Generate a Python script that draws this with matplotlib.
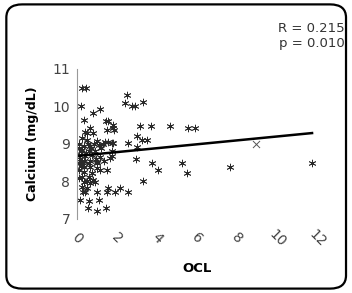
import matplotlib
matplotlib.use("Agg")
import matplotlib.pyplot as plt
from matplotlib.patches import FancyBboxPatch
import numpy as np

plt.rcParams['font.family'] = ['DejaVu Sans']

# OCL values (x) and Calcium values (y)
ocl = [0.25, 0.45, 0.2, 0.8, 1.15, 2.5, 2.4, 2.75, 2.9, 3.3,
       0.35, 1.45, 1.55, 1.8, 1.8, 3.15, 3.7, 4.65, 5.55, 5.9,
       0.5, 0.65, 3.0, 3.25, 3.5, 2.55, 3.0, 1.55, 1.8,
       2.95, 3.75, 4.05, 5.25, 5.5, 7.65, 11.75, 3.3,
       1.55, 2.15, 2.55, 1.0, 0.3, 0.15, 0.6, 1.1, 0.55, 1.0, 1.45,
       1.15, 1.5, 1.65, 1.75, 1.0, 0.75,
       0.4, 0.8, 0.25, 0.5, 1.0, 1.4, 1.75, 0.35, 0.65, 1.1,
       0.25, 0.6, 0.9, 0.4, 0.75, 1.15, 1.75, 0.35, 0.65,
       0.25, 0.6, 1.0, 1.35, 0.35, 0.65, 1.0, 0.35, 0.75,
       0.25, 0.6, 0.35, 0.65, 0.9, 0.25, 0.5, 0.4, 1.5, 1.9,
       1.5, 1.85, 0.1, 0.1, 0.1, 0.1, 0.1, 0.1, 0.15, 0.2, 0.2,
       0.55, 0.7, 0.85, 0.45, 0.3, 1.2, 1.3, 0.5, 0.8, 0.95]
calcium = [10.5, 10.5, 10.0, 9.83, 9.93, 10.3, 10.1, 10.0, 10.0, 10.12,
           9.64, 9.62, 9.6, 9.5, 9.43, 9.48, 9.48, 9.48, 9.43, 9.43,
           9.3, 9.43, 9.2, 9.1, 9.1, 9.03, 8.93, 9.05, 9.03,
           8.6, 8.5, 8.3, 8.5, 8.22, 8.39, 8.5, 8.0,
           7.82, 7.82, 7.72, 7.72, 7.72, 7.5, 7.48, 7.5, 7.3, 7.2, 7.3,
           8.3, 8.3, 8.63, 8.8, 8.5, 8.22,
           9.32, 9.3, 9.16, 9.1, 9.08, 9.05, 9.03, 8.95, 8.95, 8.97,
           8.84, 8.81, 8.81, 8.68, 8.7, 8.65, 8.68, 8.55, 8.55,
           8.52, 8.5, 8.52, 8.55, 8.39, 8.39, 8.36, 8.25, 8.23,
           8.12, 8.12, 7.99, 7.96, 7.99, 7.85, 7.82, 7.72, 7.72, 7.72,
           9.37, 9.37, 8.9, 8.7, 8.5, 8.3, 8.1, 9.0, 8.6, 8.8, 8.4,
           9.0, 8.9, 9.0, 8.75, 8.45, 8.9, 9.0, 8.0, 8.05, 8.6]
# one point drawn as a plain x in the picture
ocl_x = [8.95]
calcium_x = [9.0]

# regression line
intercept = 8.68
slope = 0.052
stats_text = "R = 0.215\np = 0.010"

xticks = [0, 2, 4, 6, 8, 10, 12]
yticks = [7, 8, 9, 10, 11]

fig = plt.figure(figsize=(3.52, 2.93), dpi=100)
ax = fig.add_axes([0.219, 0.2526, 0.6817, 0.512])

ax.scatter(ocl, calcium, marker=(6, 2, 0), s=24, c='#2a2a2a', linewidths=0.6)
ax.scatter(ocl_x, calcium_x, marker='x', s=26, c='#555555', linewidths=0.7)
xl = np.array([0, max(ocl)])
ax.plot(xl, intercept + slope * xl, color='black', lw=1.8)

ax.set_xlim(0, 12)
ax.set_ylim(7, 11)
ax.set_xticks(xticks)
ax.set_yticks(yticks)
ax.set_xticklabels([str(t) for t in xticks], rotation=-45, ha='center',
                   va='center', color='#444444', fontsize=10)
ax.set_yticklabels([str(t) for t in yticks], color='#444444', fontsize=10)
ax.tick_params(axis='x', length=0, pad=14)
ax.tick_params(axis='y', length=0, pad=5)
for s in ['top', 'right', 'bottom']:
    ax.spines[s].set_visible(False)
ax.spines['left'].set_color('#999999')
ax.spines['left'].set_linewidth(0.8)

ax.set_xlabel('OCL', fontweight='bold', fontsize=9.5, labelpad=9)
ax.set_ylabel('Calcium (mg/dL)', fontweight='bold', fontsize=9, labelpad=10)

fig.text(0.98, 0.925, stats_text, ha='right', va='top', fontsize=9.5,
         color='#333333', linespacing=1.2)

border = FancyBboxPatch((0.018, 0.015), 0.965, 0.97,
                        boxstyle="round,pad=0,rounding_size=0.045",
                        transform=fig.transFigure, fill=False,
                        edgecolor='black', lw=1.6)
fig.patches.append(border)

fig.savefig('out.png', dpi=100)
